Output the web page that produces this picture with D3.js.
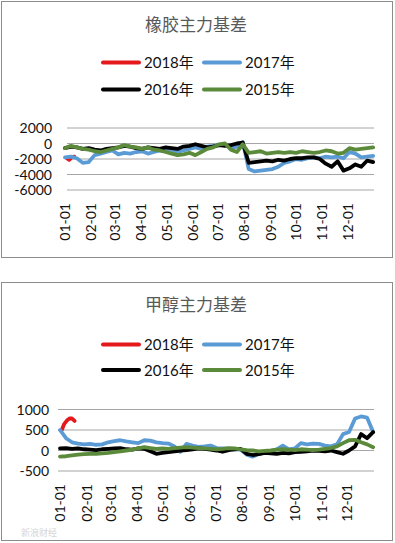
<!DOCTYPE html>
<html>
<head>
<meta charset="utf-8">
<script src="https://cdn.jsdelivr.net/npm/d3@7"></script>
<style>
  body { margin: 0; background: #fff; }
  svg { display: block; }
</style>
</head>
<body>
<script>
// month tick labels (first day of each month, day-of-year)
const monthLabels = ["01-01", "02-01", "03-01", "04-01", "05-01", "06-01",
  "07-01", "08-01", "09-01", "10-01", "11-01", "12-01"];
const monthDays = [0, 31, 59, 90, 120, 151, 181, 212, 243, 273, 304, 334];

const seriesNames = ["2018年", "2017年", "2016年", "2015年"];
const seriesColors = ["#e3191c", "#5b9bd5", "#000000", "#5b8a3a"];

// weekly samples, day 0 .. 364
const weekDays = d3.range(0, 365, 7);

// 橡胶主力基差
const rubberDays2018 = [2, 5, 8, 11];
const rubber2018 = [-1900, -2100, -1800, -1700];
const rubber2017 = [-1800, -1700, -1900, -2500, -2400, -1500, -1300, -1100, -900, -1400,
  -1200, -1300, -1100, -1000, -1300, -1100, -900, -1000, -800, -1100,
  -900, -700, -500, -700, -400, -300, -200, -100, -600, -400,
  200, -3300, -3600, -3500, -3400, -3300, -3000, -2500, -2300, -2000,
  -2100, -1900, -1800, -1900, -1700, -1800, -1700, -1900, -1100, -1300,
  -1800, -1700, -1600];
const rubber2016 = [-600, -400, -500, -700, -600, -800, -900, -700, -600, -500,
  -300, -400, -600, -700, -500, -600, -700, -500, -600, -700,
  -400, -300, -100, -300, -500, -400, -200, -300, -200, 0,
  100, -2500, -2400, -2300, -2200, -2300, -2100, -2200, -2000, -1900,
  -1900, -1800, -1800, -2000, -2600, -3000, -2300, -3500, -3200, -2700,
  -3000, -2200, -2400];
const rubber2015 = [-600, -300, -500, -700, -800, -1000, -1100, -900, -700, -500,
  -200, -400, -500, -700, -500, -800, -900, -1100, -1300, -1500,
  -1400, -1200, -1500, -1100, -700, -500, -100, 0, -800, -1100,
  -100, -1200, -1100, -1000, -1300, -1200, -1100, -1200, -1100, -1200,
  -1000, -1100, -1200, -1100, -900, -1000, -1300, -1200, -600, -800,
  -700, -600, -500];
const rubberTicks = [2000, 0, -2000, -4000, -6000];

// 甲醇主力基差
const methanolDays2018 = [2, 5, 8, 11, 14, 17];
const methanol2018 = [500, 650, 730, 780, 780, 720];
const methanol2017 = [500, 300, 200, 170, 150, 160, 140, 150, 200, 230,
  250, 220, 200, 180, 250, 240, 200, 180, 170, 100,
  -30, 160, 120, 90, 100, 120, 60, 50, 40, 30,
  20, -100, -150, -80, -60, -20, 30, 120, 30, 50,
  180, 150, 170, 160, 120, 100, 150, 400, 450, 780,
  830, 800, 450];
const methanol2016 = [50, 60, 40, 50, 30, 20, 10, 30, 40, 50,
  60, 30, 20, 50, 40, -20, -80, -60, -40, -20,
  0, 10, 30, 50, 40, 20, 0, -30, 10, 30,
  40, -80, -110, -90, -60, -70, -80, -60, -70, -40,
  -30, -20, 0, -10, -20, 0, -40, -80, 0, 100,
  400, 300, 450];
const methanol2015 = [-150, -140, -120, -100, -90, -80, -80, -70, -60, -40,
  -20, 0, 20, 50, 80, 60, 40, 50, 40, 60,
  70, 80, 70, 60, 50, 40, 30, 40, 60, 50,
  30, 10, 0, -20, -10, 0, 20, 30, 20, 10,
  30, 20, 10, 20, 40, 60, 100, 180, 250, 260,
  200, 150, 80];
const methanolTicks = [1000, 500, 0, -500];

const numFont = "Lato, 'Noto Sans CJK SC', sans-serif";
const cjkFont = "'Noto Sans CJK SC', sans-serif";

const svg = d3.select("body").append("svg")
  .attr("width", 395)
  .attr("height", 543);

function zip(days, vals) {
  return days.map((d, i) => ({ day: d, value: vals[i] }));
}

function drawChart(cfg) {
  const g = svg.append("g");

  g.append("rect")
    .attr("x", cfg.frame.x).attr("y", cfg.frame.y)
    .attr("width", cfg.frame.w).attr("height", cfg.frame.h)
    .attr("fill", "#fff")
    .attr("stroke", "#8c8c8c");

  g.append("text")
    .attr("x", 196).attr("y", cfg.titleY)
    .attr("text-anchor", "middle")
    .style("font-family", cjkFont)
    .style("font-size", "17px")
    .attr("fill", "#595959")
    .text(cfg.title);

  // legend, 2 x 2
  seriesNames.forEach((name, i) => {
    const lx = i % 2 === 0 ? 103 : 204;
    const ly = cfg.legendY[Math.floor(i / 2)];
    g.append("line")
      .attr("x1", lx).attr("x2", lx + 36)
      .attr("y1", ly).attr("y2", ly)
      .attr("stroke", seriesColors[i])
      .attr("stroke-width", 4)
      .attr("stroke-linecap", "round");
    g.append("text")
      .attr("x", lx + 41).attr("y", ly + 5.5)
      .style("font-family", numFont)
      .style("font-size", "15px")
      .attr("fill", "#111")
      .text(name);
  });

  const x = d3.scaleLinear().domain([0, 365]).range([cfg.xLeft, cfg.plot.right]);
  const y = d3.scaleLinear().domain(cfg.yDomain).range([cfg.plot.bottom, cfg.plot.top]);

  // gridlines + y labels
  g.selectAll(".grid")
    .data(cfg.ticks)
    .join("line")
    .attr("x1", cfg.plot.left).attr("x2", cfg.plot.right)
    .attr("y1", d => y(d)).attr("y2", d => y(d))
    .attr("stroke", "#a6a6a6")
    .attr("stroke-width", 1);

  g.selectAll(".ylab")
    .data(cfg.ticks)
    .join("text")
    .attr("x", cfg.tickX)
    .attr("y", d => y(d) + 5)
    .attr("text-anchor", "end")
    .style("font-family", numFont)
    .style("font-size", "14px")
    .attr("fill", "#111")
    .text(d => d);

  // month labels, vertical
  g.selectAll(".xlab")
    .data(monthDays)
    .join("text")
    .attr("transform", (d, i) => `translate(${x(d) + 5},${cfg.labelTop}) rotate(-90)`)
    .attr("text-anchor", "end")
    .style("font-family", numFont)
    .style("font-size", "14px")
    .attr("fill", "#111")
    .text((d, i) => monthLabels[i]);

  const line = d3.line()
    .x(d => x(d.day))
    .y(d => y(d.value))
    .curve(d3.curveLinear);

  cfg.series.forEach((s, i) => {
    g.append("path")
      .datum(s)
      .attr("fill", "none")
      .attr("stroke", seriesColors[i])
      .attr("stroke-width", 3.8)
      .attr("stroke-linejoin", "round")
      .attr("stroke-linecap", "round")
      .attr("d", line);
  });
}

drawChart({
  title: "橡胶主力基差",
  frame: { x: 1.5, y: 1.5, w: 391, h: 256 },
  titleY: 30.5,
  legendY: [62.5, 89.5],
  plot: { left: 67, right: 374, top: 128, bottom: 190 },
  xLeft: 65,
  yDomain: [-6000, 2000],
  ticks: rubberTicks,
  tickX: 52,
  labelTop: 203,
  series: [
    zip(rubberDays2018, rubber2018),
    zip(weekDays, rubber2017),
    zip(weekDays, rubber2016),
    zip(weekDays, rubber2015)
  ]
});

drawChart({
  title: "甲醇主力基差",
  frame: { x: 1.5, y: 282.5, w: 391, h: 258 },
  titleY: 310.5,
  legendY: [344.5, 370],
  plot: { left: 58, right: 374, top: 409.5, bottom: 471 },
  xLeft: 60,
  yDomain: [-500, 1000],
  ticks: methanolTicks,
  tickX: 49,
  labelTop: 484,
  series: [
    zip(methanolDays2018, methanol2018),
    zip(weekDays, methanol2017),
    zip(weekDays, methanol2016),
    zip(weekDays, methanol2015)
  ]
});

// faint watermark
svg.append("text")
  .attr("x", 21).attr("y", 536)
  .style("font-family", cjkFont)
  .style("font-size", "9px")
  .attr("fill", "#d4d4d4")
  .text("新浪财经");
</script>
</body>
</html>
